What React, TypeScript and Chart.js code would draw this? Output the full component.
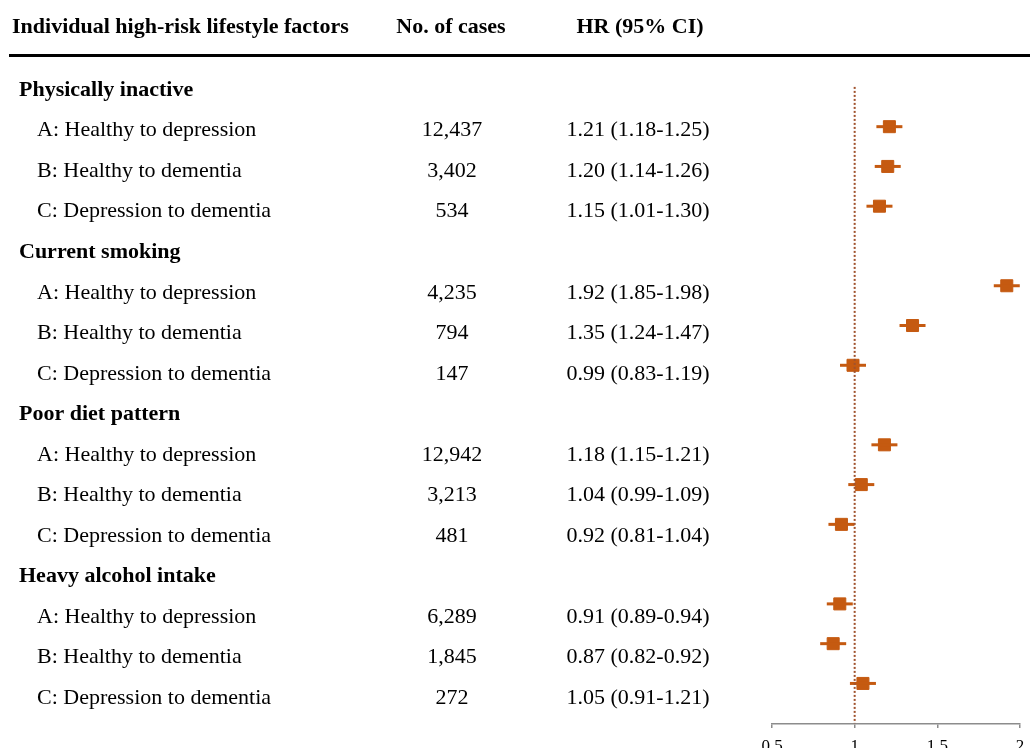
import { useEffect, useRef } from "react";
import { Chart, registerables } from "chart.js";

Chart.register(...registerables);

const groups = ["Physically inactive", "Current smoking", "Poor diet pattern", "Heavy alcohol intake"];
const transitions = ["A: Healthy to depression", "B: Healthy to dementia", "C: Depression to dementia"];
const cases = [12437, 3402, 534, 4235, 794, 147, 12942, 3213, 481, 6289, 1845, 272];
const hr = [1.21, 1.2, 1.15, 1.92, 1.35, 0.99, 1.18, 1.04, 0.92, 0.91, 0.87, 1.05];
const lower = [1.18, 1.14, 1.01, 1.85, 1.24, 0.83, 1.15, 0.99, 0.81, 0.89, 0.82, 0.91];
const upper = [1.25, 1.26, 1.3, 1.98, 1.47, 1.19, 1.21, 1.09, 1.04, 0.94, 0.92, 1.21];
const xTicks = [0.5, 1, 1.5, 2];
const referenceHR = 1;
const headers = ["Individual high-risk lifestyle factors", "No. of cases", "HR (95% CI)"];

const ORANGE = "#C55A11";
const SERIF = '"Liberation Serif", "Times New Roman", serif';

export default function App() {
  const ref = useRef<HTMLCanvasElement>(null);

  useEffect(() => {
    document.body.style.margin = "0";
    const canvas = ref.current!;
    const rowIndex = (k: number) => Math.floor(k / 3) * 4 + 1 + (k % 3);
    const points = hr.map((v, k) => ({ x: v, y: rowIndex(k) }));
    const totalRows = groups.length * 4;

    const textPlugin = {
      id: "tableText",
      afterDraw(chart: any) {
        const ctx = chart.ctx as CanvasRenderingContext2D;
        ctx.save();
        ctx.fillStyle = "#000";
        ctx.textBaseline = "middle";
        // header
        ctx.font = `bold 22px ${SERIF}`;
        ctx.textAlign = "left";
        ctx.fillText(headers[0], 12, 27);
        ctx.textAlign = "center";
        ctx.fillText(headers[1], 451, 27);
        ctx.fillText(headers[2], 640, 27);
        ctx.fillRect(9, 54, 1030 - 9, 3);
        const ty = (r: number) => 90 + 40.55 * r;
        groups.forEach((g, gi) => {
          ctx.font = `bold 22px ${SERIF}`;
          ctx.textAlign = "left";
          ctx.fillText(g, 19, ty(gi * 4));
          transitions.forEach((t, ti) => {
            const k = gi * 3 + ti;
            const y = ty(gi * 4 + 1 + ti);
            ctx.font = `22px ${SERIF}`;
            ctx.textAlign = "left";
            ctx.fillText(t, 37, y);
            ctx.textAlign = "center";
            ctx.fillText(cases[k].toLocaleString("en-US"), 452, y);
            ctx.fillText(`${hr[k].toFixed(2)} (${lower[k].toFixed(2)}-${upper[k].toFixed(2)})`, 638, y);
          });
        });
        ctx.restore();
      },
    };

    const chart = new Chart(canvas, {
      type: "scatter",
      data: {
        datasets: [
          {
            type: "line",
            data: [
              { x: referenceHR, y: 0 },
              { x: referenceHR, y: totalRows },
            ],
            borderColor: "#A0522D",
            borderWidth: 2,
            borderDash: [2, 2],
            pointRadius: 0,
          } as any,
          {
            data: points,
            pointStyle: "line",
            pointRadius: 13,
            pointHoverRadius: 13,
            borderColor: ORANGE,
            borderWidth: 3,
          },
          {
            data: points,
            pointStyle: "rect",
            pointRadius: 8.5,
            pointHoverRadius: 8.5,
            backgroundColor: ORANGE,
            borderColor: ORANGE,
            borderWidth: 1,
          },
        ],
      },
      options: {
        responsive: false,
        animation: false,
        events: [],
        layout: { autoPadding: false, padding: { left: 772, right: 10, top: 56, bottom: 0 } },
        plugins: { legend: { display: false }, tooltip: { enabled: false } },
        scales: {
          x: {
            type: "linear",
            min: xTicks[0],
            max: xTicks[xTicks.length - 1],
            afterFit: (s: any) => {
              s.height = 24;
              s.paddingLeft = 0;
              s.paddingRight = 0;
            },
            afterBuildTicks: (s: any) => {
              s.ticks = xTicks.map((v) => ({ value: v }));
            },
            ticks: {
              callback: (v: any) => String(v),
              color: "#000",
              padding: 8,
              maxRotation: 0,
              font: { family: SERIF, size: 17 },
            },
            grid: { drawOnChartArea: false, drawTicks: true, tickLength: 4, color: "#8C8C8C", lineWidth: 1.5 },
            border: { display: true, color: "#8C8C8C", width: 1.5 },
          },
          y: {
            type: "linear",
            display: false,
            reverse: true,
            min: -0.777,
            max: 16.02,
          },
        },
      },
      plugins: [textPlugin],
    });
    return () => chart.destroy();
  }, []);

  return <canvas ref={ref} width={1030} height={748} style={{ display: "block" }} />;
}
